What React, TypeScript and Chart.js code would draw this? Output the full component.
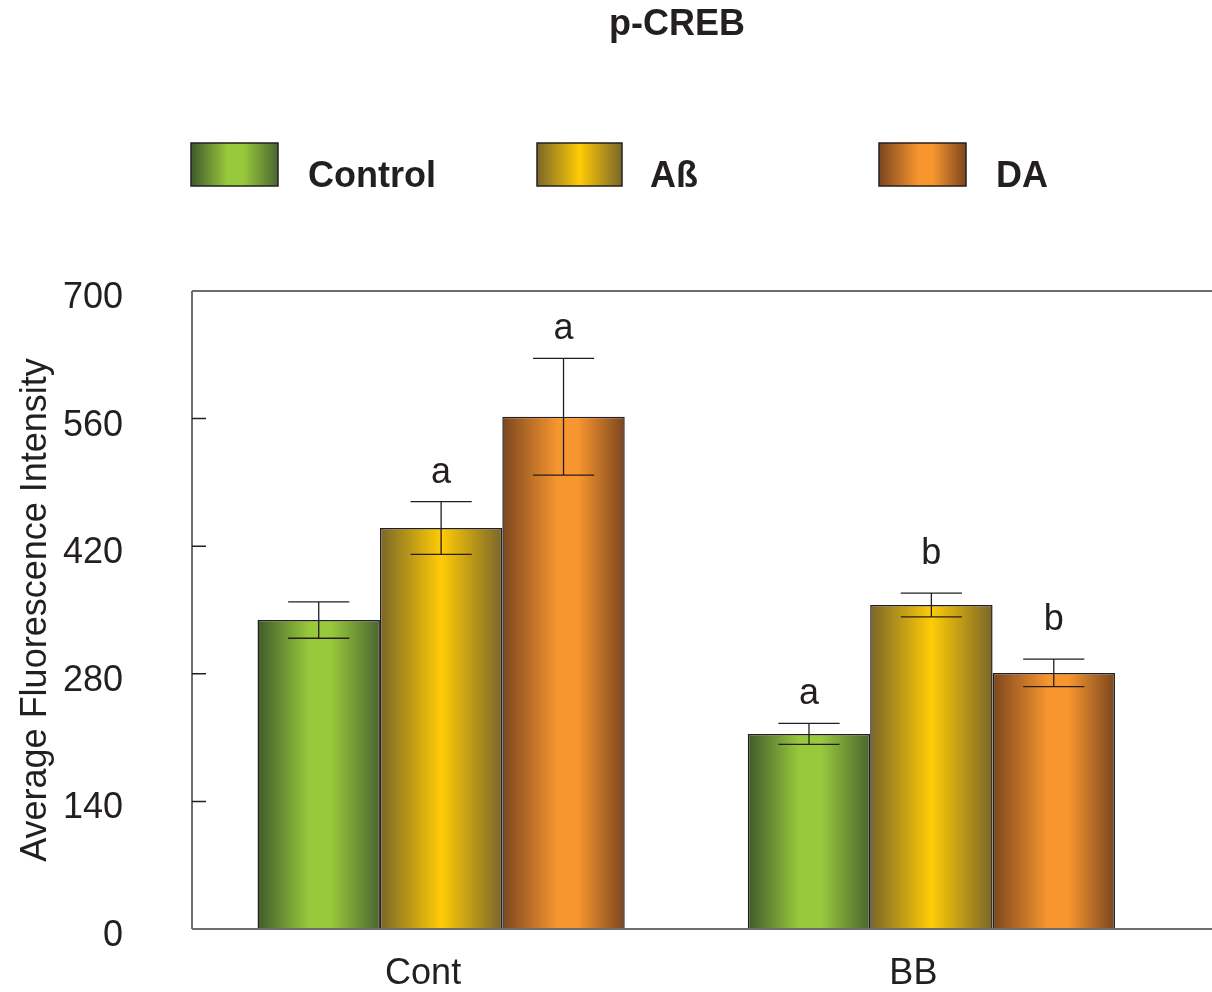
import React, { useEffect, useRef } from "react";
import { Chart, registerables } from "chart.js";

Chart.register(...registerables);

const categories = ["Cont", "BB"];
const seriesNames = ["Control", "Aß", "DA"];
const controlValues = [339, 214];
const abValues = [440, 355.5];
const daValues = [562, 281];
const controlErrors = [20, 11.5];
const abErrors = [29, 13];
const daErrors = [64, 15];
const controlLetters = ["", "a"];
const abLetters = ["a", "b"];
const daLetters = ["a", "b"];
const yTicks = [0, 140, 280, 420, 560, 700];
const chartTitle = "p-CREB";
const yTitle = "Average Fluorescence Intensity";

const FONT = '"Liberation Sans", Arial, Helvetica, sans-serif';
const TEXT = "#231f20";
const AXIS = "#6d6e71";
const CAT_PCT = 0.749;
const FRAME_INSET = 4;

const gradientStops = [
  [[0, "#3f5a2c"], [0.42, "#98c93c"], [0.6, "#98c93c"], [1, "#4a6630"]],
  [[0, "#7a662a"], [0.5, "#ffcc05"], [1, "#7a662a"]],
  [[0, "#7b461e"], [0.45, "#f7952f"], [0.62, "#f7952f"], [1, "#7b461e"]],
] as [number, string][][];
const solidColors = ["#98c93c", "#ffcc05", "#f7952f"];

const values = [controlValues, abValues, daValues];
const errors = [controlErrors, abErrors, daErrors];
const letters = [controlLetters, abLetters, daLetters];

function makeGradient(c: any, left: number, width: number, si: number) {
  const g = c.createLinearGradient(left, 0, left + width, 0);
  for (const [o, col] of gradientStops[si]) g.addColorStop(o, col);
  return g;
}

export default function App() {
  const ref = useRef<HTMLCanvasElement | null>(null);
  useEffect(() => {
    if (!ref.current) return;

    const bg = (si: number) => (ctx: any) => {
      const chart = ctx.chart;
      const xs = chart.scales && chart.scales.x;
      if (!xs || !chart.chartArea || ctx.dataIndex === undefined) return solidColors[si];
      const n = categories.length;
      const catW = (xs.right - xs.left) / n;
      const center = xs.getPixelForValue(ctx.dataIndex);
      const groupW = catW * CAT_PCT;
      const bw = groupW / seriesNames.length;
      const left = center - groupW / 2 + si * bw;
      return makeGradient(chart.ctx, left, bw, si);
    };

    const decor = {
      id: "decor",
      afterDatasetsDraw(chart: any) {
        const c = chart.ctx;
        const { top, bottom } = chart.chartArea;
        const left = chart.chartArea.left - FRAME_INSET;
        const ys = chart.scales.y;
        const W = chart.width;
        c.save();
        // frame lines
        c.strokeStyle = AXIS;
        c.lineWidth = 2;
        c.beginPath();
        c.moveTo(left, top);
        c.lineTo(W, top);
        c.moveTo(left, top);
        c.lineTo(left, bottom);
        c.moveTo(left, bottom);
        c.lineTo(W, bottom);
        c.stroke();
        // inward ticks
        c.strokeStyle = "#231f20";
        c.lineWidth = 1.5;
        c.beginPath();
        for (const t of yTicks) {
          if (t === yTicks[0] || t === yTicks[yTicks.length - 1]) continue;
          const y = ys.getPixelForValue(t);
          c.moveTo(left, y);
          c.lineTo(left + 14, y);
        }
        c.stroke();
        // error bars + letters
        for (let si = 0; si < values.length; si++) {
          const meta = chart.getDatasetMeta(si);
          meta.data.forEach((bar: any, i: number) => {
            const x = bar.x;
            const cap = bar.width / 4;
            const yHi = ys.getPixelForValue(values[si][i] + errors[si][i]);
            const yLo = ys.getPixelForValue(values[si][i] - errors[si][i]);
            c.strokeStyle = "#231f20";
            c.lineWidth = 1.3;
            c.beginPath();
            c.moveTo(x, yHi);
            c.lineTo(x, yLo);
            c.moveTo(x - cap, yHi);
            c.lineTo(x + cap, yHi);
            c.moveTo(x - cap, yLo);
            c.lineTo(x + cap, yLo);
            c.stroke();
            const L = letters[si][i];
            if (L) {
              c.fillStyle = TEXT;
              c.font = `36px ${FONT}`;
              c.textAlign = "center";
              c.textBaseline = "alphabetic";
              c.fillText(L, x, yHi - (L === "b" ? 29 : 19));
            }
          });
        }
        c.restore();
      },
      afterDraw(chart: any) {
        const c = chart.ctx;
        c.save();
        c.fillStyle = TEXT;
        c.font = `bold 36px ${FONT}`;
        c.textAlign = "center";
        c.textBaseline = "alphabetic";
        c.fillText(chartTitle, 677, 35);
        const boxes = [
          [191, 87, 308],
          [537, 85, 650],
          [879, 87, 996],
        ];
        boxes.forEach(([bx, bw, tx], si) => {
          c.fillStyle = makeGradient(c, bx, bw, si);
          c.fillRect(bx, 143, bw, 43);
          c.strokeStyle = "#231f20";
          c.lineWidth = 1.5;
          c.strokeRect(bx, 143, bw, 43);
          c.fillStyle = TEXT;
          c.textAlign = "left";
          c.font = `bold 36px ${FONT}`;
          c.fillText(seriesNames[si], tx, 187);
        });
        c.restore();
      },
    };

    const chart = new Chart(ref.current, {
      type: "bar",
      data: {
        labels: categories,
        datasets: seriesNames.map((name, si) => ({
          label: name,
          data: values[si],
          backgroundColor: bg(si),
          borderColor: "#231f20",
          borderWidth: 1.5,
          categoryPercentage: CAT_PCT,
          barPercentage: 1,
        })),
      },
      options: {
        responsive: false,
        animation: false,
        devicePixelRatio: 1,
        layout: { padding: { top: 291, right: 35.5, bottom: 0, left: 0 } },
        plugins: {
          legend: { display: false },
          title: { display: false },
          tooltip: { enabled: false },
        },
        scales: {
          x: {
            offset: true,
            grid: { display: false },
            border: { display: false },
            ticks: {
              color: TEXT,
              font: { family: FONT, size: 36 },
              padding: 15,
              labelOffset: -18,
            },
            afterFit: (s: any) => {
              s.height = 63;
              s.paddingLeft = 0;
              s.paddingRight = 0;
            },
          },
          y: {
            min: 0,
            max: 700,
            afterBuildTicks: (s: any) => {
              s.ticks = yTicks.map((v) => ({ value: v }));
            },
            grid: { display: false, drawTicks: false },
            border: { display: false },
            ticks: {
              color: TEXT,
              font: { family: FONT, size: 36 },
              padding: 73,
              labelOffset: 7,
            },
            title: {
              display: true,
              text: yTitle,
              color: TEXT,
              font: { family: FONT, size: 36 },
              padding: { top: 14, bottom: 0 },
            },
            afterFit: (s: any) => {
              s.width = 196;
              s.paddingTop = 0;
              s.paddingBottom = 0;
            },
          },
        },
      },
      plugins: [decor],
    });
    return () => chart.destroy();
  }, []);

  return (
    <div style={{ position: "absolute", left: 0, top: 0, width: 1212, height: 992 }}>
      <canvas ref={ref} width={1212} height={992} style={{ display: "block" }} />
    </div>
  );
}
